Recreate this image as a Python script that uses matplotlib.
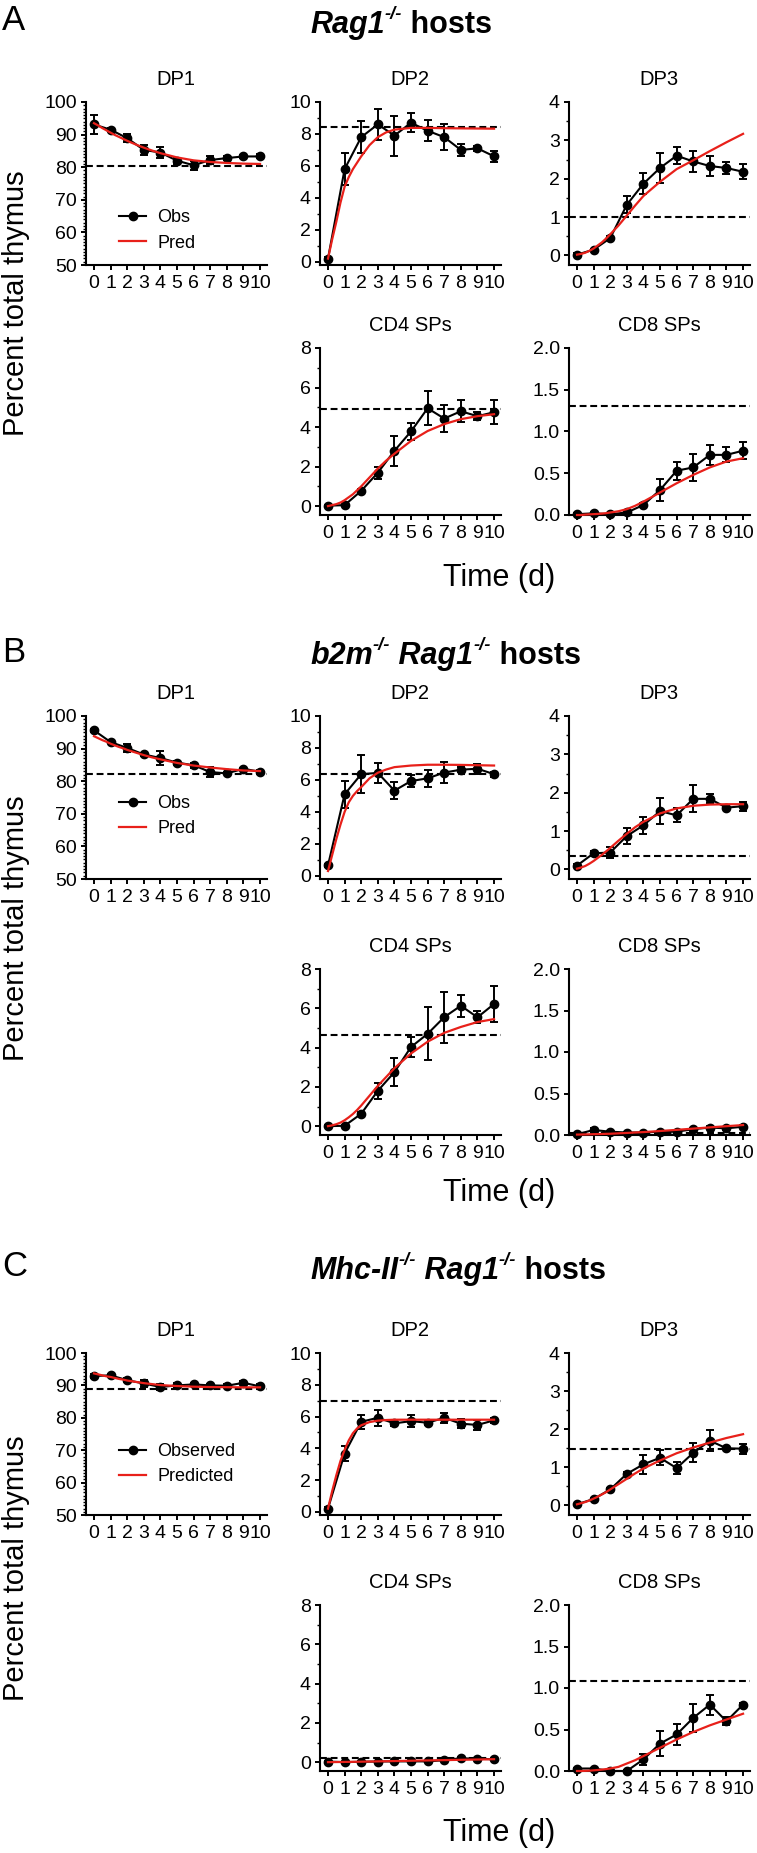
import numpy as np
import matplotlib
matplotlib.use("Agg")
import matplotlib.pyplot as plt
from matplotlib.ticker import MultipleLocator, NullLocator
from matplotlib.lines import Line2D
from matplotlib import font_manager

# ---- data ----
days = np.arange(11)
pred_t = [0, 0.25, 0.5, 0.75, 1, 1.25, 1.5, 1.75, 2, 2.5, 3, 3.5, 4, 5, 6, 7, 8, 9, 10]

# A: Rag1-/- hosts
a_dp1_obs = [93.1, 91.5, 88.9, 85.3, 84.5, 82.0, 80.6, 82.2, 82.8, 83.3, 83.3]
a_dp1_err = [2.8, 0.5, 1.3, 1.5, 1.8, 0.9, 1.4, 1.3, 0.5, 0.4, 0.6]
a_dp1_pred = [93.5, 92.8, 92.0, 91.3, 90.6, 89.9, 89.3, 88.7, 88.1, 87.0, 86.0, 85.1, 84.3, 83.0, 82.1, 81.6, 81.3, 81.1, 81.0]
a_dp1_ss = 80.3
a_dp2_obs = [0.2, 5.8, 7.8, 8.6, 7.9, 8.7, 8.2, 7.8, 7.0, 7.1, 6.6]
a_dp2_err = [0.1, 1.0, 1.0, 0.95, 1.25, 0.6, 0.65, 0.8, 0.35, 0.15, 0.35]
a_dp2_pred = [0.2, 1.4, 2.5, 3.7, 4.7, 5.3, 5.8, 6.2, 6.6, 7.3, 7.8, 8.1, 8.27, 8.38, 8.38, 8.36, 8.35, 8.34, 8.33]
a_dp2_ss = 8.45
a_dp3_obs = [0.02, 0.15, 0.45, 1.32, 1.87, 2.28, 2.6, 2.45, 2.33, 2.28, 2.18]
a_dp3_err = [0.03, 0.03, 0.05, 0.22, 0.28, 0.4, 0.22, 0.27, 0.25, 0.15, 0.2]
a_dp3_pred = [0.02, 0.04, 0.07, 0.12, 0.18, 0.26, 0.34, 0.44, 0.55, 0.78, 1.04, 1.3, 1.55, 1.92, 2.25, 2.48, 2.72, 2.95, 3.17]
a_dp3_ss = 1.0
a_cd4_obs = [0.02, 0.05, 0.77, 1.69, 2.8, 3.78, 4.95, 4.43, 4.8, 4.55, 4.75]
a_cd4_err = [0.05, 0.05, 0.1, 0.3, 0.75, 0.45, 0.85, 0.7, 0.55, 0.2, 0.6]
a_cd4_pred = [0.0, 0.05, 0.1, 0.18, 0.3, 0.45, 0.6, 0.8, 1.0, 1.45, 1.9, 2.3, 2.65, 3.3, 3.8, 4.15, 4.4, 4.55, 4.65]
a_cd4_ss = 4.9
a_cd8_obs = [0.01, 0.02, 0.01, 0.03, 0.12, 0.30, 0.53, 0.57, 0.72, 0.72, 0.77]
a_cd8_err = [0.01, 0.01, 0.01, 0.01, 0.02, 0.13, 0.11, 0.16, 0.12, 0.09, 0.1]
a_cd8_pred = [0.0, 0.0, 0.005, 0.008, 0.01, 0.013, 0.017, 0.022, 0.03, 0.045, 0.07, 0.11, 0.16, 0.27, 0.38, 0.48, 0.57, 0.64, 0.68]
a_cd8_ss = 1.30

# B: b2m-/- Rag1-/- hosts
b_dp1_obs = [95.6, 92.0, 90.2, 88.2, 87.1, 85.7, 84.9, 82.8, 82.4, 83.8, 82.9]
b_dp1_err = [0.5, 0.4, 1.2, 0.4, 2.2, 0.6, 0.8, 1.6, 0.3, 0.3, 0.4]
b_dp1_pred = [93.8, 93.2, 92.6, 92.1, 91.5, 91.0, 90.5, 90.1, 89.6, 88.8, 88.0, 87.3, 86.7, 85.6, 84.8, 84.2, 83.7, 83.3, 83.1]
b_dp1_ss = 82.1
b_dp2_obs = [0.65, 5.1, 6.36, 6.44, 5.33, 5.93, 6.1, 6.46, 6.64, 6.7, 6.36]
b_dp2_err = [0.1, 0.85, 1.2, 0.65, 0.55, 0.4, 0.55, 0.65, 0.15, 0.3, 0.15]
b_dp2_pred = [0.3, 1.3, 2.3, 3.2, 4.0, 4.6, 5.0, 5.3, 5.55, 6.1, 6.45, 6.65, 6.8, 6.9, 6.95, 6.95, 6.94, 6.92, 6.9]
b_dp2_ss = 6.36
b_dp3_obs = [0.1, 0.42, 0.44, 0.87, 1.15, 1.52, 1.41, 1.84, 1.84, 1.61, 1.65]
b_dp3_err = [0.03, 0.05, 0.15, 0.22, 0.22, 0.33, 0.18, 0.35, 0.12, 0.04, 0.12]
b_dp3_pred = [0.02, 0.05, 0.09, 0.15, 0.22, 0.3, 0.38, 0.47, 0.56, 0.75, 0.93, 1.1, 1.24, 1.46, 1.59, 1.66, 1.69, 1.7, 1.7]
b_dp3_ss = 0.34
b_cd4_obs = [0.0, 0.02, 0.63, 1.8, 2.75, 4.03, 4.7, 5.55, 6.13, 5.54, 6.22]
b_cd4_err = [0.05, 0.05, 0.08, 0.4, 0.7, 0.5, 1.35, 1.3, 0.55, 0.3, 0.9]
b_cd4_pred = [0.0, 0.04, 0.1, 0.18, 0.3, 0.45, 0.62, 0.82, 1.05, 1.55, 2.05, 2.5, 2.95, 3.7, 4.3, 4.75, 5.05, 5.3, 5.45]
b_cd4_ss = 4.64
b_cd8_obs = [0.01, 0.06, 0.04, 0.03, 0.03, 0.04, 0.04, 0.07, 0.09, 0.08, 0.1]
b_cd8_err = [0.01, 0.02, 0.01, 0.01, 0.01, 0.01, 0.01, 0.02, 0.02, 0.02, 0.02]
b_cd8_pred = [0.005, 0.006, 0.007, 0.008, 0.01, 0.011, 0.012, 0.014, 0.015, 0.02, 0.025, 0.03, 0.035, 0.048, 0.062, 0.077, 0.092, 0.106, 0.12]
b_cd8_ss = 0.03

# C: Mhc-II-/- Rag1-/- hosts
c_dp1_obs = [92.9, 93.1, 91.6, 90.6, 89.5, 90.0, 90.3, 90.0, 89.9, 90.8, 89.7]
c_dp1_err = [0.6, 0.5, 0.7, 1.0, 0.8, 0.6, 0.5, 0.4, 0.4, 0.5, 0.7]
c_dp1_pred = [93.7, 93.4, 93.1, 92.8, 92.6, 92.3, 92.0, 91.8, 91.5, 91.1, 90.7, 90.4, 90.1, 89.8, 89.6, 89.5, 89.45, 89.4, 89.4]
c_dp1_ss = 88.8
c_dp2_obs = [0.2, 3.67, 5.67, 5.92, 5.57, 5.71, 5.61, 5.92, 5.55, 5.47, 5.76]
c_dp2_err = [0.1, 0.5, 0.45, 0.5, 0.15, 0.4, 0.15, 0.3, 0.3, 0.3, 0.15]
c_dp2_pred = [0.2, 1.3, 2.3, 3.2, 3.9, 4.5, 4.95, 5.25, 5.45, 5.65, 5.74, 5.78, 5.8, 5.8, 5.8, 5.8, 5.8, 5.8, 5.8]
c_dp2_ss = 7.0
c_dp3_obs = [0.03, 0.17, 0.42, 0.83, 1.08, 1.25, 0.98, 1.38, 1.7, 1.5, 1.49]
c_dp3_err = [0.02, 0.03, 0.04, 0.05, 0.25, 0.2, 0.15, 0.25, 0.28, 0.03, 0.13]
c_dp3_pred = [0.03, 0.06, 0.09, 0.13, 0.18, 0.23, 0.29, 0.35, 0.42, 0.56, 0.7, 0.84, 0.97, 1.18, 1.37, 1.52, 1.65, 1.77, 1.87]
c_dp3_ss = 1.49
c_cd4_obs = [0.03, 0.0, 0.02, 0.03, 0.04, 0.04, 0.04, 0.1, 0.2, 0.17, 0.15]
c_cd4_err = [0.02, 0.02, 0.02, 0.02, 0.02, 0.02, 0.02, 0.03, 0.04, 0.03, 0.05]
c_cd4_pred = [0.0, 0.003, 0.006, 0.009, 0.012, 0.015, 0.018, 0.021, 0.025, 0.032, 0.04, 0.048, 0.056, 0.072, 0.088, 0.104, 0.12, 0.135, 0.15]
c_cd4_ss = 0.2
c_cd8_obs = [0.03, 0.03, 0.0, 0.0, 0.14, 0.33, 0.44, 0.64, 0.8, 0.6, 0.8]
c_cd8_err = [0.01, 0.01, 0.01, 0.01, 0.07, 0.15, 0.13, 0.17, 0.12, 0.05, 0.02]
c_cd8_pred = [0.0, 0.0, 0.002, 0.004, 0.008, 0.012, 0.017, 0.023, 0.03, 0.05, 0.09, 0.13, 0.18, 0.28, 0.38, 0.47, 0.55, 0.62, 0.69]
c_cd8_ss = 1.08

# ---- fonts ----
def have(fam):
    try:
        font_manager.findfont(font_manager.FontProperties(family=fam), fallback_to_default=False)
        return True
    except Exception:
        return False

REG = "Liberation Sans" if have("Liberation Sans") else "DejaVu Sans"
plt.rcParams["font.family"] = REG

RED = "#e8201a"
W, H = 757, 1853
fig = plt.figure(figsize=(W / 100, H / 100), dpi=100)

# axis settings: ylim, major, minor, fmt
cfg = {
    "DP1": (50, 100, 10, 1, "%d"),
    "DP2": (-0.2, 10, 2, 1, "%d"),
    "DP3": (-0.25, 4, 1, 0.5, "%d"),
    "CD4": (-0.45, 8, 2, 1, "%d"),
    "CD8": (0, 2, 0.5, None, "%.1f"),
}
col_left = {"DP1": 85.7, "DP2": 319.7, "DP3": 568.7, "CD4": 319.7, "CD8": 568.7}
ax_w = 181

panels = [
    ("A", 20, 22, [("Rag1", True), ("-/-", "sup"), (" hosts", False)],
     (102, 265), (348, 515), 303, 578, ("Obs", "Pred"), 0.005,
     {"DP1": (a_dp1_obs, a_dp1_err, a_dp1_pred, a_dp1_ss),
      "DP2": (a_dp2_obs, a_dp2_err, a_dp2_pred, a_dp2_ss),
      "DP3": (a_dp3_obs, a_dp3_err, a_dp3_pred, a_dp3_ss),
      "CD4": (a_cd4_obs, a_cd4_err, a_cd4_pred, a_cd4_ss),
      "CD8": (a_cd8_obs, a_cd8_err, a_cd8_pred, a_cd8_ss)}),
    ("B", 653, 653, [("b2m", True), ("-/-", "sup"), (" Rag1", True), ("-/-", "sup"), (" hosts", False)],
     (716, 879), (969, 1135), 928, 1193, ("Obs", "Pred"), 0.178,
     {"DP1": (b_dp1_obs, b_dp1_err, b_dp1_pred, b_dp1_ss),
      "DP2": (b_dp2_obs, b_dp2_err, b_dp2_pred, b_dp2_ss),
      "DP3": (b_dp3_obs, b_dp3_err, b_dp3_pred, b_dp3_ss),
      "CD4": (b_cd4_obs, b_cd4_err, b_cd4_pred, b_cd4_ss),
      "CD8": (b_cd8_obs, b_cd8_err, b_cd8_pred, b_cd8_ss)}),
    ("C", 1267, 1268, [("Mhc-II", True), ("-/-", "sup"), (" Rag1", True), ("-/-", "sup"), (" hosts", False)],
     (1353, 1515), (1605, 1771), 1568, 1833, ("Observed", "Predicted"), 0.107,
     {"DP1": (c_dp1_obs, c_dp1_err, c_dp1_pred, c_dp1_ss),
      "DP2": (c_dp2_obs, c_dp2_err, c_dp2_pred, c_dp2_ss),
      "DP3": (c_dp3_obs, c_dp3_err, c_dp3_pred, c_dp3_ss),
      "CD4": (c_cd4_obs, c_cd4_err, c_cd4_pred, c_cd4_ss),
      "CD8": (c_cd8_obs, c_cd8_err, c_cd8_pred, c_cd8_ss)}),
]

titles = {"DP1": "DP1", "DP2": "DP2", "DP3": "DP3", "CD4": "CD4 SPs", "CD8": "CD8 SPs"}
renderer = fig.canvas.get_renderer()


def rich_title(x_px, y_center, parts, size=22):
    # title pieces: italic gene names, raised -/- and plain bold "hosts"
    base = y_center + 0.36 * size * 100 / 72
    x = x_px
    for s, kind in parts:
        if kind == "sup":
            t = fig.text(x / W, 1 - (base - 0.45 * size * 1.389) / H, s, fontsize=size * 0.6,
                         fontweight="bold", fontstyle="italic", va="baseline", ha="left")
        else:
            t = fig.text(x / W, 1 - base / H, s, fontsize=size, fontweight="bold",
                         fontstyle="italic" if kind else "normal", va="baseline", ha="left")
        x += t.get_window_extent(renderer=renderer).width


for letter, ly, ty, tparts, row1, row2, ylab_y, time_y, leg_labels, leg_y, data in panels:
    fig.text(2 / W, 1 - ly / H, letter, fontsize=25, va="center", ha="left")
    rich_title(310, ty, tparts)
    fig.text(16 / W, 1 - ylab_y / H, "Percent total thymus", rotation=90,
             fontsize=21, va="center", ha="center")
    fig.text(499 / W, 1 - time_y / H, "Time (d)", fontsize=22, va="center", ha="center")

    for key, (obs, err, pred, ss) in data.items():
        top, bot = row1 if key.startswith("DP") else row2
        ax = fig.add_axes([col_left[key] / W, 1 - bot / H, ax_w / W, (bot - top) / H])
        ymin, ymax, major, minor, fmt = cfg[key]

        ax.axhline(ss, color="black", lw=1.5, ls=(0, (3.3, 1.8)), zorder=1)
        ax.errorbar(days, obs, yerr=err, fmt="-o", color="black", ms=6, lw=1.5,
                    elinewidth=1.4, capsize=3, capthick=1.4, zorder=3, clip_on=False)
        ax.plot(pred_t, pred, color=RED, lw=1.6, zorder=4, clip_on=False)

        ax.set_xlim(-0.5, 10.4)
        ax.set_ylim(ymin, ymax)
        ax.set_xticks(days)
        ax.set_xticklabels([str(d) for d in days])
        yt = np.arange(ymin if key == "DP1" else 0, ymax + major / 2, major)
        ax.set_yticks(yt)
        ax.set_yticklabels([fmt % v for v in yt])
        if minor:
            ax.yaxis.set_minor_locator(MultipleLocator(minor))
        else:
            ax.yaxis.set_minor_locator(NullLocator())

        for s in ("top", "right"):
            ax.spines[s].set_visible(False)
        for s in ("left", "bottom"):
            ax.spines[s].set_linewidth(1.5)
        ax.tick_params(which="major", direction="out", length=3.8, width=1.4,
                       labelsize=14)
        ax.tick_params(axis="x", which="major", pad=3.5)
        ax.tick_params(axis="y", which="major", pad=2.5)
        ax.tick_params(which="minor", direction="out", length=2.2, width=1.0)

        ax.set_title(titles[key], fontsize=14.5, pad=12.5)

        if key == "DP1":
            handles = [Line2D([], [], color="black", marker="o", ms=6, lw=1.5),
                       Line2D([], [], color=RED, lw=1.6)]
            ax.legend(handles, leg_labels, loc="lower left", bbox_to_anchor=(0.115, leg_y),
                      frameon=False, fontsize=13, handlelength=1.5, handletextpad=0.6,
                      labelspacing=0.45, borderpad=0.2)

fig.savefig("out.png", dpi=100)
